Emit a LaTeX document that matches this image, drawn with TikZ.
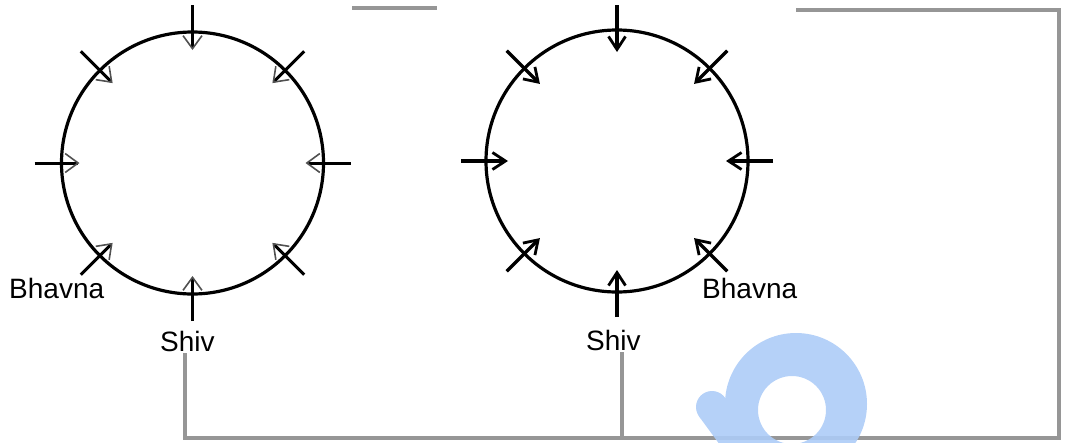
\documentclass[tikz,border=0pt]{standalone}
\usepackage{fontspec}
\setmainfont{Liberation Sans}
\usetikzlibrary{arrows.meta,calc}
\definecolor{wiregray}{RGB}{150,150,150}
\definecolor{logoblue}{RGB}{173,204,247}
\definecolor{headgray}{RGB}{80,80,80}
\begin{document}
\begin{tikzpicture}[x=1pt,y=-1pt,
  ring/.style={circle,draw=black,line width=3.2pt,minimum size=262pt,inner sep=0pt},
  shaft/.style={line width=3pt,draw=black},
  thinhead/.style={line width=1.6pt,draw=headgray,-{Straight Barb[length=13pt,width=19pt]}},
  boldarrow/.style={line width=3.2pt,-{Straight Barb[length=13pt,width=17pt,line width=2.8pt]}},
  lbl/.style={font=\fontsize{28}{30}\selectfont,inner sep=0pt,anchor=base west},
  wire/.style={draw=wiregray,line width=3.8pt}
]
\useasboundingbox (0,0) rectangle (1065,442);
\clip (0,0) rectangle (1065,442);

% circles
\node[ring] (LC) at (192.5,163) {};
\node[ring] (RC) at (617,161) {};

% arrows
\foreach \a in {0,45,...,315}{
  \coordinate (Lo\a) at ($(LC.center)+(\a:158)$);
  \coordinate (Li\a) at ($(LC.center)+(\a:113)$);
  \coordinate (Lt\a) at ($(LC.center)+(\a:115)$);
  \coordinate (Lm\a) at ($(LC.center)+(\a:116)$);
  \draw[shaft] (Lo\a) -- (Lt\a);
  \draw[thinhead] (Lm\a) -- (Li\a);
  \coordinate (Ro\a) at ($(RC.center)+(\a:156)$);
  \coordinate (Ri\a) at ($(RC.center)+(\a:109)$);
  \draw[boldarrow] (Ro\a) -- (Ri\a);
}

% labels
\node[lbl] (LB) at (9,298) {Bhavna};
\node[lbl] (LS) at (160,351) {Shiv};
\node[lbl] (RS) at (586,350) {Shiv};
\node[lbl] (RB) at (702,298) {Bhavna};

% wires
\coordinate (w1) at (185,353);
\coordinate (w2) at (185,438);
\coordinate (w3) at (1059,438);
\coordinate (w4) at (1059,10);
\coordinate (w5) at (796,10);
\coordinate (w6) at (622,352);
\coordinate (w7) at (622,438);
\coordinate (t1) at (352,8);
\coordinate (t2) at (437,8);
\draw[wire] (w1) -- (w2) -- (w3) -- (w4) -- (w5);
\draw[wire] (w6) -- (w7);
\draw[wire] (t1) -- (t2);

% blue mark
\begin{scope}[transparency group,opacity=0.9]
  \fill[logoblue,even odd rule] (796,404) circle (71) (792,410) circle (34);
  \fill[logoblue] (712,407) circle (16);
  \draw[logoblue,line width=32pt] (712,407) -- (745,452);
\end{scope}
\end{tikzpicture}
\end{document}
